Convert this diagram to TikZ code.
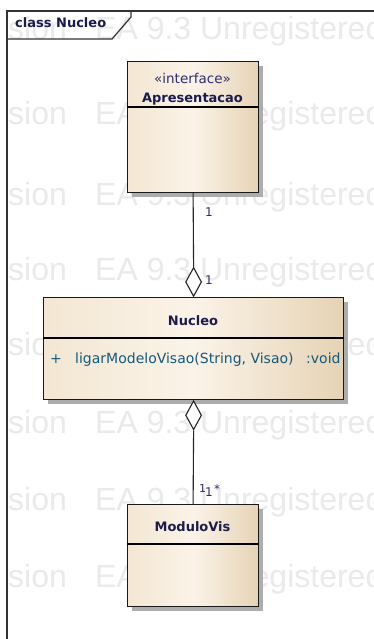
\documentclass[tikz,border=0pt]{standalone}
\usepackage{fontspec}
\setmainfont{DejaVu Sans}
\newfontfamily\wmfont{Liberation Sans}
\usetikzlibrary{shapes.geometric,shadows}
\definecolor{boxL}{HTML}{F3E7D3}
\definecolor{boxM}{HTML}{FBF3E8}
\definecolor{boxR}{HTML}{E6D3B5}
\definecolor{nameC}{HTML}{1C1C4C}
\definecolor{stereoC}{HTML}{2E2E70}
\definecolor{methC}{HTML}{135A7A}
\definecolor{multC}{HTML}{3A2A58}
\definecolor{frameC}{HTML}{333333}
\definecolor{wmC}{HTML}{EAEAEA}
\begin{document}
\begin{tikzpicture}[x=1pt,y=-1pt,
  classbox/.style={draw=black!90, line width=1.2pt, left color=boxL, right color=boxR, middle color=boxM,
    inner sep=0pt, anchor=north west,
    drop shadow={shadow xshift=4pt, shadow yshift=-4pt, fill=black!32, opacity=1}},
  cname/.style={text=nameC, font=\fontsize{13}{15}\selectfont\bfseries, anchor=base, inner sep=0pt},
  stereo/.style={text=stereoC, font=\fontsize{13.5}{15}\selectfont, anchor=base, inner sep=0pt},
  meth/.style={text=methC, font=\fontsize{14}{16}\selectfont, anchor=base west, inner sep=0pt},
  mult/.style={text=multC, font=\fontsize{12}{14}\selectfont, anchor=base west, inner sep=0pt},
  aggr/.style={diamond, draw=black!85, line width=1.1pt, fill=white, minimum width=16pt, minimum height=29pt, inner sep=0pt},
  conn/.style={draw=black!85, line width=1.1pt},
  wm/.style={text=wmC, font=\wmfont\fontsize{32}{36}\selectfont, anchor=base west, inner sep=0pt}
]
\useasboundingbox[fill=white] (0,0) rectangle (374,639);

% watermark
\begin{scope}
\clip (7.5,0) rectangle (374,639);
\foreach \b/\n in {40/a,125/b,205/c,280/d,355/e,433/f,510/g,587/h,664/i}{
  \node[wm] (wmA\n) at (8,\b) {sion};
  \node[wm] (wmB\n) at (95,\b) {EA 9.3 Unregistered};
}
\end{scope}

% frame
\draw[frameC, line width=1.3pt] (7,640) -- (7,11) -- (375,11);
\draw[frameC, line width=1.2pt] (7,39) -- (112,39) -- (131,17) -- (131,11);
\node[cname, anchor=base west] (title) at (15,28) {class Nucleo};

% classes
\node[classbox, minimum width=131pt, minimum height=131pt] (apres) at (127,61) {};
\draw[line width=1.1pt] ([yshift=-46pt]apres.north west) -- ([yshift=-46pt]apres.north east);
\node[stereo] (apresSt) at (192.5,84) {«interface»};
\node[cname] (apresName) at (192.5,103) {Apresentacao};

\node[classbox, minimum width=300pt, minimum height=102pt] (nucleo) at (43,297) {};
\draw[line width=1.1pt] ([yshift=-41pt]nucleo.north west) -- ([yshift=-41pt]nucleo.north east);
\node[cname] (nucleoName) at (193,325) {Nucleo};
\node[meth] (plus) at (50,363) {+};
\node[meth] (method) at (75,363) {ligarModeloVisao(String, Visao)};
\node[meth] (ret) at (306,363) {:void};

\node[classbox, minimum width=131pt, minimum height=102pt] (modulo) at (127,504) {};
\draw[line width=1.1pt] ([yshift=-40pt]modulo.north west) -- ([yshift=-40pt]modulo.north east);
\node[cname] (moduloName) at (192.5,531) {ModuloVis};

% aggregations
\node[aggr, anchor=south] (d1) at (nucleo.north) {};
\node[aggr, anchor=north] (d2) at (nucleo.south) {};
\draw[conn] (apres.south) -- (d1.north);
\draw[conn] (d2.south) -- (modulo.north);

% multiplicities
\node[mult] (m1) at (205,216) {1};
\node[mult] (m2) at (205,284) {1};
\node[mult, font=\fontsize{11}{13}\selectfont] (m3) at (199,492) {1};
\node[mult] (m4) at (205,496) {1};
\node[mult] (m5) at (214,493) {*};
\end{tikzpicture}
\end{document}
